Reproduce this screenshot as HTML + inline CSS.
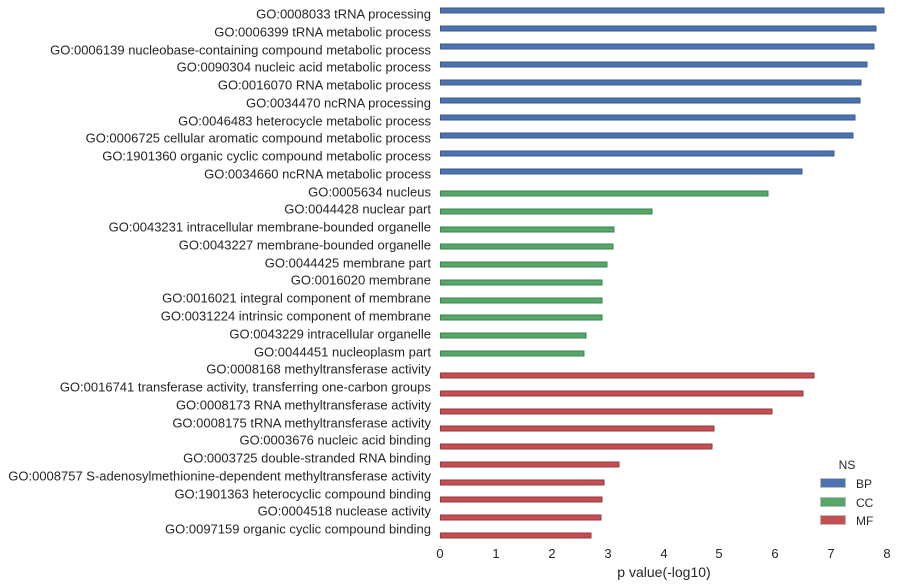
<!DOCTYPE html>
<html><head><meta charset="utf-8"><style>
body{margin:0;background:#fff;}
svg{display:block;font-family:"Liberation Sans",Arial,sans-serif;}
</style></head><body>
<svg width="897" height="587" viewBox="0 0 897 587" xmlns="http://www.w3.org/2000/svg">
<g font-size="13" fill="#262626" text-anchor="end">
<text x="431" y="18.5">GO:0008033 tRNA processing</text>
<text x="431" y="36.5">GO:0006399 tRNA metabolic process</text>
<text x="431" y="54.5">GO:0006139 nucleobase-containing compound metabolic process</text>
<text x="431" y="71.5">GO:0090304 nucleic acid metabolic process</text>
<text x="431" y="89.5">GO:0016070 RNA metabolic process</text>
<text x="431" y="107.5">GO:0034470 ncRNA processing</text>
<text x="431" y="125.5">GO:0046483 heterocycle metabolic process</text>
<text x="431" y="142.5">GO:0006725 cellular aromatic compound metabolic process</text>
<text x="431" y="160.5">GO:1901360 organic cyclic compound metabolic process</text>
<text x="431" y="178.5">GO:0034660 ncRNA metabolic process</text>
<text x="431" y="196.5">GO:0005634 nucleus</text>
<text x="431" y="213.5">GO:0044428 nuclear part</text>
<text x="431" y="231.5">GO:0043231 intracellular membrane-bounded organelle</text>
<text x="431" y="249.5">GO:0043227 membrane-bounded organelle</text>
<text x="431" y="267.5">GO:0044425 membrane part</text>
<text x="431" y="284.5">GO:0016020 membrane</text>
<text x="431" y="302.5">GO:0016021 integral component of membrane</text>
<text x="431" y="320.5">GO:0031224 intrinsic component of membrane</text>
<text x="431" y="338.5">GO:0043229 intracellular organelle</text>
<text x="431" y="356.5">GO:0044451 nucleoplasm part</text>
<text x="431" y="373.5">GO:0008168 methyltransferase activity</text>
<text x="431" y="391.5">GO:0016741 transferase activity, transferring one-carbon groups</text>
<text x="431" y="409.5">GO:0008173 RNA methyltransferase activity</text>
<text x="431" y="427.5">GO:0008175 tRNA methyltransferase activity</text>
<text x="431" y="444.5">GO:0003676 nucleic acid binding</text>
<text x="431" y="462.5">GO:0003725 double-stranded RNA binding</text>
<text x="431" y="480.5">GO:0008757 S-adenosylmethionine-dependent methyltransferase activity</text>
<text x="431" y="498.5">GO:1901363 heterocyclic compound binding</text>
<text x="431" y="515.5">GO:0004518 nuclease activity</text>
<text x="431" y="533.5">GO:0097159 organic cyclic compound binding</text>
</g>
<g fill="#4c72b0" stroke="#3a5a8c" stroke-width="1">
<rect x="440.5" y="8" width="443.5" height="5"/>
<rect x="440.5" y="26" width="435.5" height="5"/>
<rect x="440.5" y="44" width="433.5" height="5"/>
<rect x="440.5" y="62" width="426.5" height="5"/>
<rect x="440.5" y="80" width="420.5" height="5"/>
<rect x="440.5" y="98" width="419.5" height="5"/>
<rect x="440.5" y="115" width="414.5" height="5"/>
<rect x="440.5" y="133" width="412.5" height="5"/>
<rect x="440.5" y="151" width="393.5" height="5"/>
<rect x="440.5" y="169" width="361.5" height="5"/>
</g>
<g fill="#55a868" stroke="#3f8050" stroke-width="1">
<rect x="440.5" y="191" width="327.5" height="5"/>
<rect x="440.5" y="209" width="211.5" height="5"/>
<rect x="440.5" y="227" width="173.5" height="5"/>
<rect x="440.5" y="244" width="172.5" height="5"/>
<rect x="440.5" y="262" width="166.5" height="5"/>
<rect x="440.5" y="280" width="161.5" height="5"/>
<rect x="440.5" y="298" width="161.5" height="5"/>
<rect x="440.5" y="315" width="161.5" height="5"/>
<rect x="440.5" y="333" width="145.5" height="5"/>
<rect x="440.5" y="351" width="143.5" height="5"/>
</g>
<g fill="#c44e52" stroke="#94393c" stroke-width="1">
<rect x="440.5" y="373" width="373.5" height="5"/>
<rect x="440.5" y="391" width="362.5" height="5"/>
<rect x="440.5" y="409" width="331.5" height="5"/>
<rect x="440.5" y="426" width="273.5" height="5"/>
<rect x="440.5" y="444" width="271.5" height="5"/>
<rect x="440.5" y="462" width="178.5" height="5"/>
<rect x="440.5" y="480" width="163.5" height="5"/>
<rect x="440.5" y="497" width="161.5" height="5"/>
<rect x="440.5" y="515" width="160.5" height="5"/>
<rect x="440.5" y="533" width="150.5" height="5"/>
</g>
<g font-size="13" fill="#262626" text-anchor="middle">
<text x="440" y="558">0</text>
<text x="496" y="558">1</text>
<text x="552" y="558">2</text>
<text x="608" y="558">3</text>
<text x="664" y="558">4</text>
<text x="719" y="558">5</text>
<text x="775" y="558">6</text>
<text x="831" y="558">7</text>
<text x="887" y="558">8</text>
<text x="664" y="577" font-size="14">p value(-log10)</text>
</g>
<g font-size="12" fill="#262626">
<text x="847" y="469" text-anchor="middle">NS</text>
<rect x="820.5" y="478.5" width="25" height="9" fill="#4c72b0" stroke="#bbb"/>
<rect x="820.5" y="497.5" width="25" height="9" fill="#55a868" stroke="#bbb"/>
<rect x="820.5" y="515.5" width="25" height="9" fill="#c44e52" stroke="#bbb"/>
<text x="856" y="488">BP</text>
<text x="856" y="507">CC</text>
<text x="856" y="525">MF</text>
</g>
</svg>
</body></html>
